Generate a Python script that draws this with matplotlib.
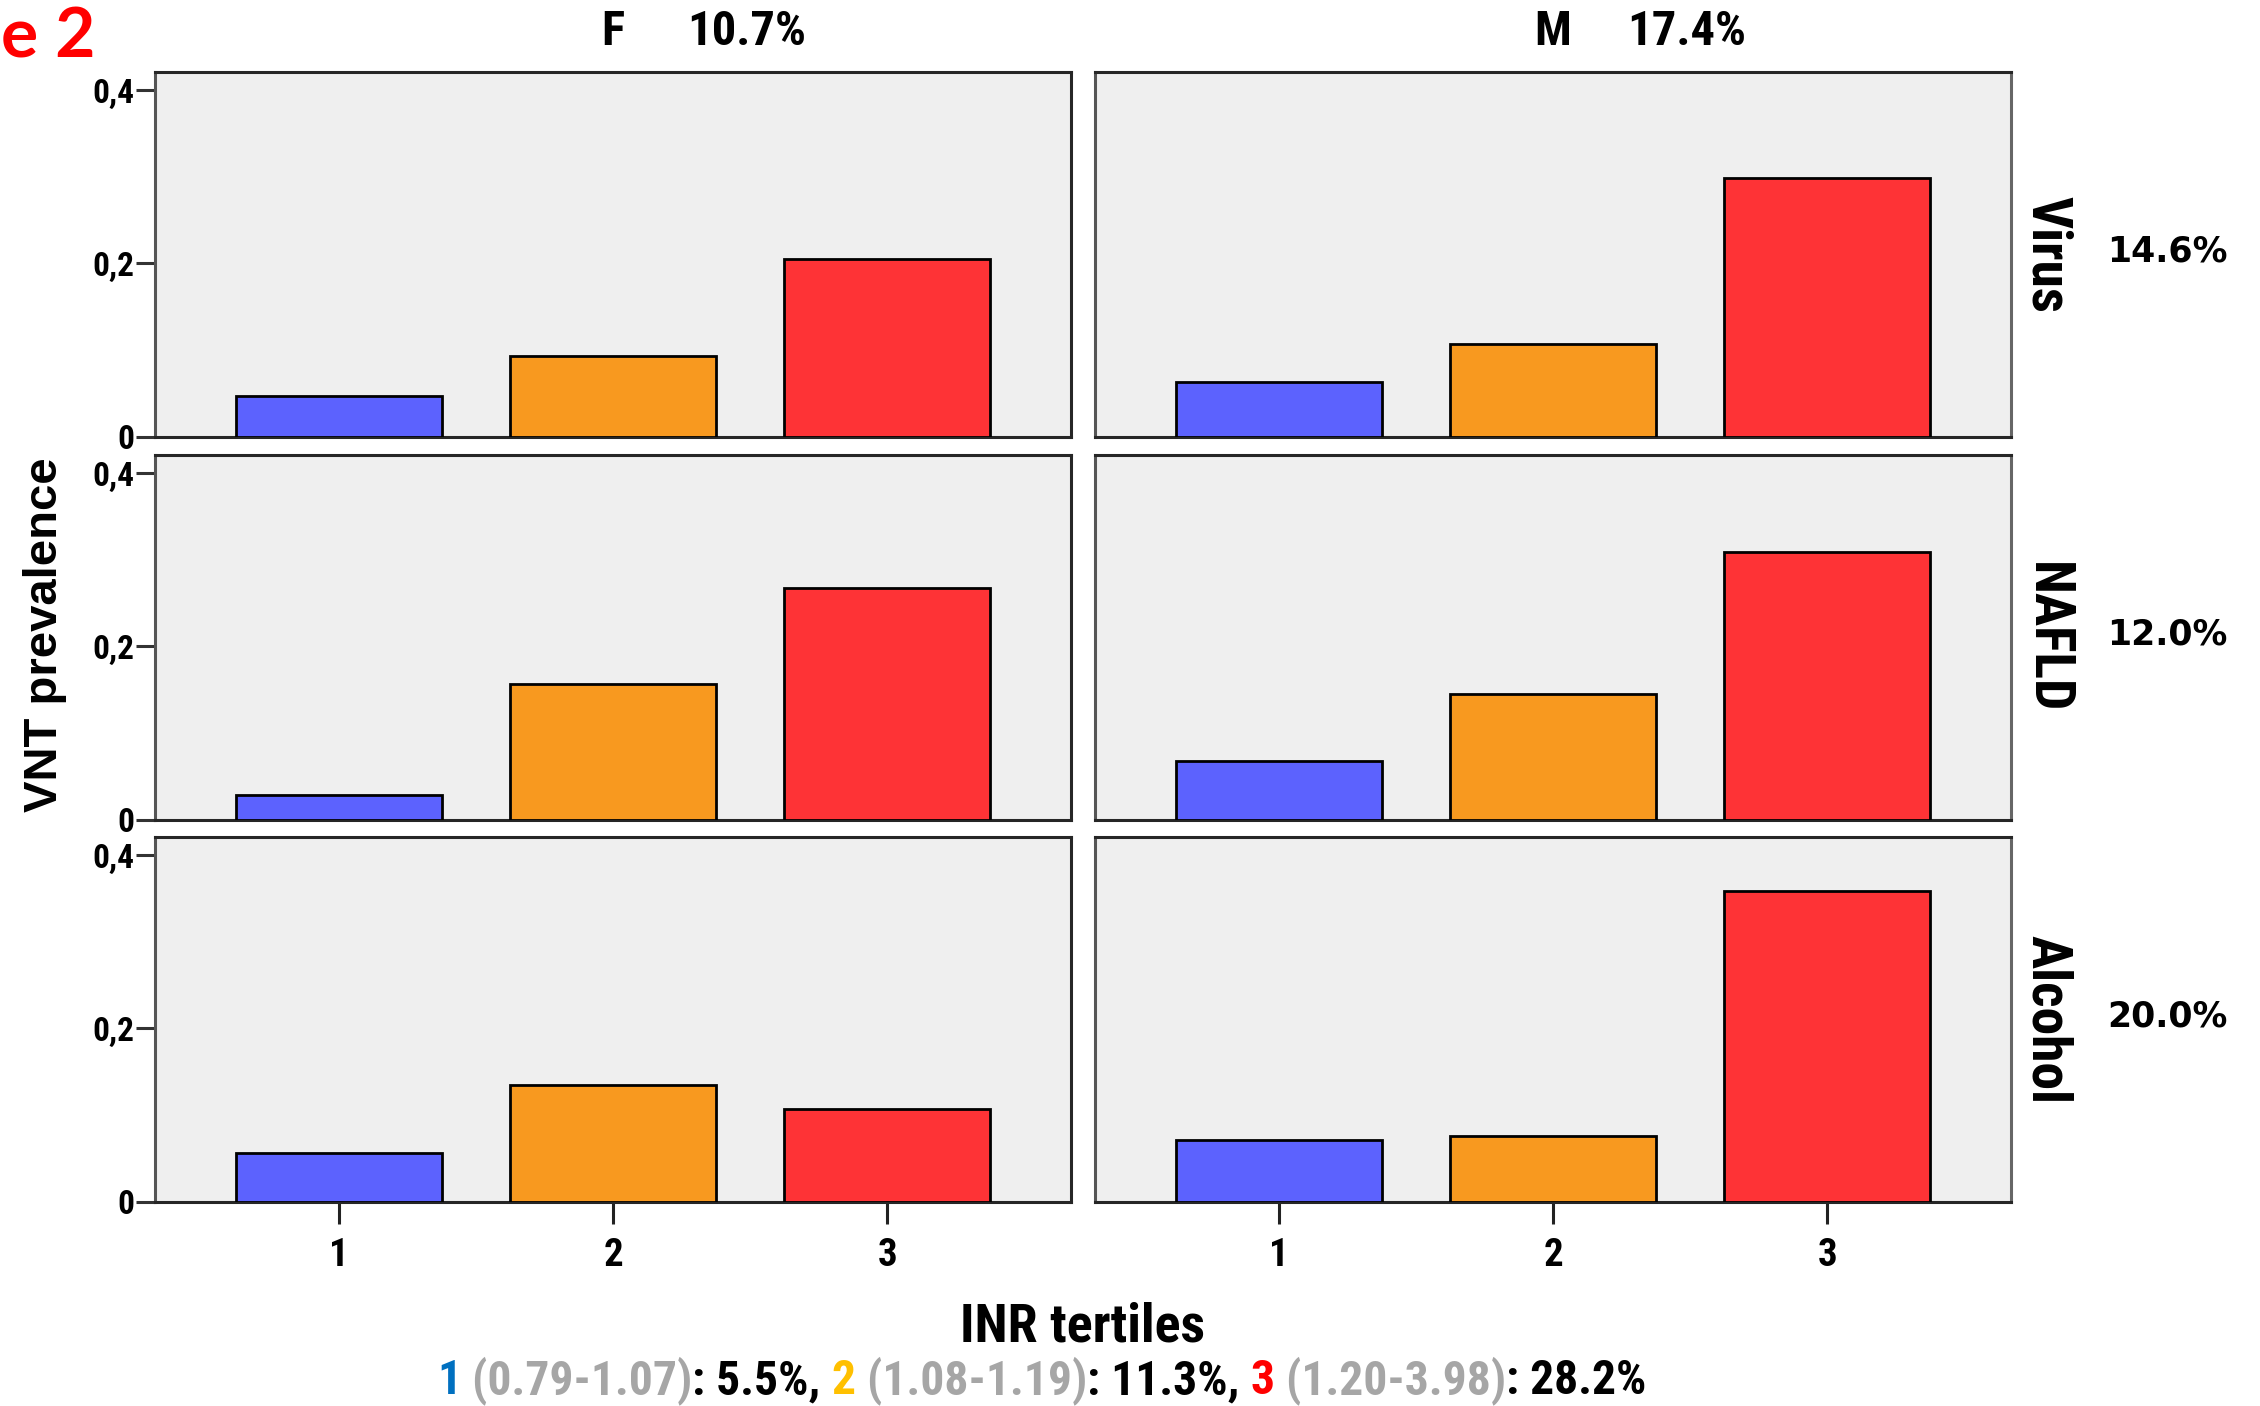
import matplotlib
matplotlib.use('Agg')
import matplotlib.pyplot as plt
from matplotlib import font_manager as fm

# ---------------- data ----------------
tertiles = [1, 2, 3]
tertile_labels = ['1', '2', '3']
sexes = ['F', 'M']
sex_pct = ['10.7%', '17.4%']
etiologies = ['Virus', 'NAFLD', 'Alcohol']
etiology_pct = ['14.6%', '12.0%', '20.0%']
bar_colors = ['#5c62fe', '#f8991f', '#fe3336']

# VNT prevalence by INR tertile
virus_F = [0.047, 0.093, 0.205]
virus_M = [0.063, 0.107, 0.298]
nafld_F = [0.029, 0.157, 0.267]
nafld_M = [0.068, 0.145, 0.309]
alcohol_F = [0.056, 0.135, 0.107]
alcohol_M = [0.072, 0.076, 0.358]
values = [[virus_F, virus_M], [nafld_F, nafld_M], [alcohol_F, alcohol_M]]

yticks = [0, 0.2, 0.4]
ytick_labels = ['0', '0,2', '0,4']

y_label = 'VNT prevalence'
x_label = 'INR tertiles'
caption_parts = [('1', '#0070c0'), (' (0.79-1.07)', '#a6a6a6'), (': 5.5%, ', 'black'),
                 ('2', '#ffc000'), (' (1.08-1.19)', '#a6a6a6'), (': 11.3%, ', 'black'),
                 ('3', '#ff0000'), (' (1.20-3.98)', '#a6a6a6'), (': 28.2%', 'black')]
fig_tag = 'e 2'   # visible remainder of the cropped "Figure 2" tag

# ---------------- fonts ----------------
installed = {f.name for f in fm.fontManager.ttflist}
NARROW = None
for cand in ['Liberation Sans Narrow', 'Roboto Condensed', 'Open Sans Condensed', 'DejaVu Sans Condensed']:
    if cand in installed:
        NARROW = cand
        break
if NARROW is None:
    NARROW = 'Liberation Sans' if 'Liberation Sans' in installed else 'DejaVu Sans'
ARIAL = 'Liberation Sans' if 'Liberation Sans' in installed else 'DejaVu Sans'
HUMAN = 'Lato' if 'Lato' in installed else ARIAL

W, H = 2260, 1406
fig = plt.figure(figsize=(W / 100, H / 100), dpi=100)
fig.patch.set_facecolor('white')


def fx(px):
    return px / W


def fy(py):
    return 1 - py / H


col_x = [155, 1095]
col_w = 916
row_top = [72, 455, 837]
row_h = 365
ymax = 0.4207

for r in range(3):
    for c in range(2):
        ax = fig.add_axes([fx(col_x[c]), fy(row_top[r] + row_h), col_w / W, row_h / H])
        ax.set_facecolor('#efefef')
        ax.bar(tertiles, values[r][c], width=0.75, color=bar_colors,
               edgecolor='black', linewidth=2.0, zorder=3)
        ax.set_xlim(0.33, 3.67)
        ax.set_ylim(0, ymax)
        for sp in ax.spines.values():
            sp.set_color('#262626')
            sp.set_linewidth(2.2)
        ax.spines['left'].set_color('#555555')
        if c == 1:
            ax.spines['right'].set_color('#666666')
        if c == 0:
            ax.set_yticks(yticks)
            ax.set_yticklabels(ytick_labels, fontfamily=NARROW, fontweight='bold', fontsize=24)
            ax.tick_params(axis='y', direction='out', length=14, width=2.2, color='#333333', pad=1)
        else:
            ax.set_yticks([])
        if r == 2:
            ax.set_xticks(tertiles)
            ax.set_xticklabels(tertile_labels, fontfamily=NARROW, fontweight='bold', fontsize=28)
            ax.tick_params(axis='x', direction='out', length=16, width=2.2, color='#222222', pad=9)
        else:
            ax.set_xticks([])

# column headers
for c in range(2):
    cx = col_x[c] + col_w / 2
    fig.text(fx(cx), fy(32), sexes[c], ha='center', va='center',
             fontfamily=NARROW, fontweight='bold', fontsize=35)
    fig.text(fx(cx + 74), fy(32), sex_pct[c], ha='left', va='center',
             fontfamily=NARROW, fontweight='bold', fontsize=35)

# row labels
for r in range(3):
    cy = row_top[r] + row_h / 2
    fig.text(fx(2047), fy(cy), etiologies[r], ha='center', va='center', rotation=270,
             fontfamily=NARROW, fontweight='bold', fontsize=40)
    fig.text(fx(2167), fy(cy - 3), etiology_pct[r], ha='center', va='center',
             fontfamily='DejaVu Sans', fontweight='bold', fontsize=25)

# y label
fig.text(fx(45), fy(635), y_label, ha='center', va='center', rotation=90,
         fontfamily=ARIAL, fontweight='bold', fontsize=34)

# x label
fig.text(fx(1083), fy(1327), x_label, ha='center', va='center',
         fontfamily=NARROW, fontweight='bold', fontsize=39)

# red figure tag at top-left
fig.text(fx(1), fy(38), fig_tag, ha='left', va='center', color='#ff0000',
         fontfamily=HUMAN, fontweight='bold', fontsize=50)

# multi-coloured caption
renderer = fig.canvas.get_renderer()


def text_width(s, size):
    t = fig.text(0, 0, s, fontfamily=NARROW, fontweight='bold', fontsize=size)
    w = t.get_window_extent(renderer).width
    t.remove()
    return w


full = ''.join(p for p, _ in caption_parts)
target_w = 1210
size = 30 * target_w / text_width(full, 30)
bar_w = text_width('I', size)
x_left = 1042 - target_w / 2
prefix = ''
for s, col in caption_parts:
    off = text_width(prefix + 'I', size) - bar_w if prefix else 0
    fig.text(fx(x_left + off), fy(1381), s, ha='left', va='center', color=col,
             fontfamily=NARROW, fontweight='bold', fontsize=size)
    prefix += s

fig.savefig('out.png', dpi=100, facecolor='white')
